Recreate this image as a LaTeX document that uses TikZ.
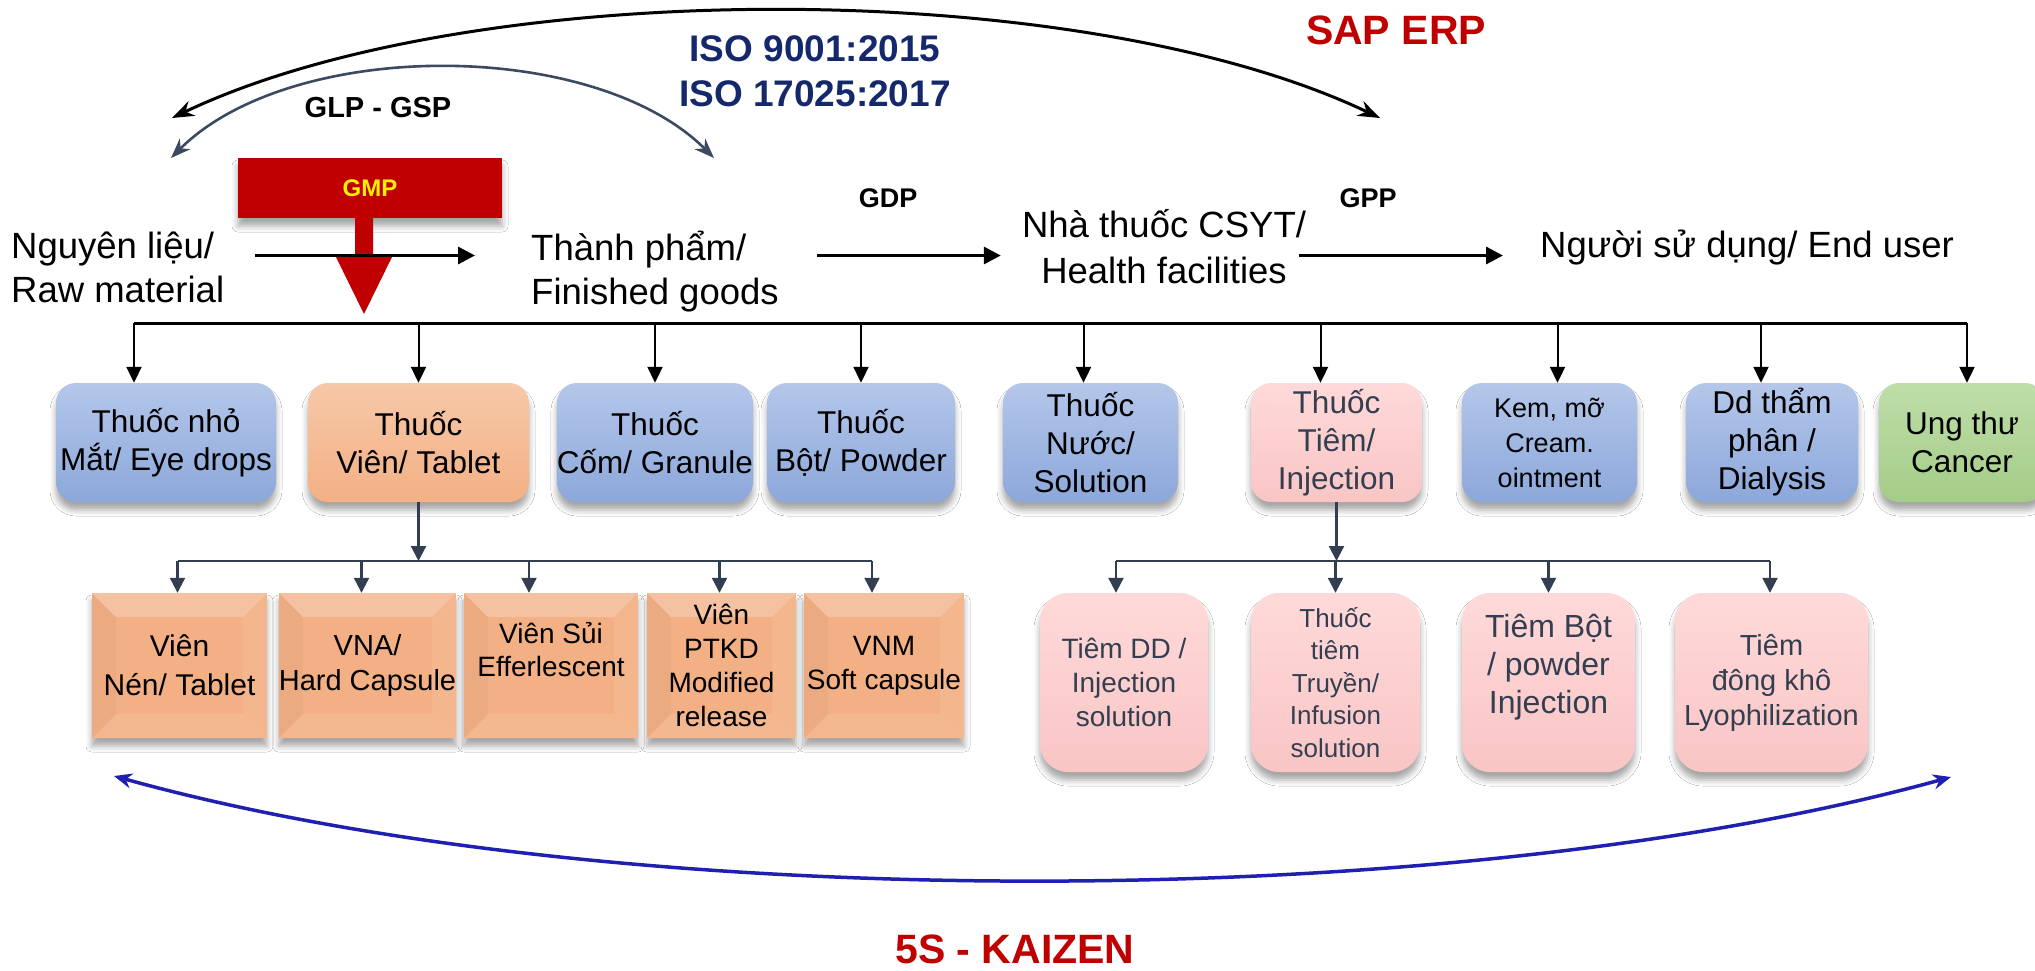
\documentclass[tikz,border=0pt]{standalone}
\usepackage{fontspec}
\setmainfont{Liberation Sans}
\usetikzlibrary{arrows.meta,shadows.blur,calc}
\definecolor{blueT}{HTML}{B4C7EA}
\definecolor{blueB}{HTML}{8CA7DA}
\definecolor{oraF}{HTML}{F3B084}
\definecolor{pinkT}{HTML}{FFD9D9}
\definecolor{pinkB}{HTML}{F9C5C5}
\definecolor{grnT}{HTML}{BEDEA8}
\definecolor{grnB}{HTML}{A4CC88}
\definecolor{slate}{HTML}{333F50}
\definecolor{arcslate}{HTML}{3B4A60}
\definecolor{navy}{HTML}{14286B}
\definecolor{dred}{HTML}{C00000}
\definecolor{arcblue}{HTML}{2020B0}
\newcommand\fsz[2]{\fontsize{#1pt}{#2pt}\selectfont}
\tikzset{
  x=1pt, y=-1pt,
  shad/.style={blur shadow={shadow xshift=0pt, shadow yshift=-8pt, shadow blur radius=6pt, shadow opacity=35}},
  box/.style={shad, inner sep=0pt, align=center},
  rowone/.style={box, minimum height=119pt, rounded corners=20pt, font=\fsz{31.5}{38}},
  bluebox/.style={rowone, top color=blueT, bottom color=blueB},
  orabox/.style={rowone, top color=oraF!70!white, bottom color=oraF},
  pinkbox/.style={rowone, top color=pinkT, bottom color=pinkB, text=slate},
  grnbox/.style={rowone, top color=grnT, bottom color=grnB},
  tabbox/.style={box, minimum height=145pt, fill=oraF, font=\fsz{28}{34},
    path picture={
      \fill[white,opacity=.24] (path picture bounding box.north west) -- (path picture bounding box.north east)
        -- ++(-24pt,-24pt) -- ($(path picture bounding box.north west)+(24pt,-24pt)$) -- cycle;
      \fill[white,opacity=.10] (path picture bounding box.south west) -- (path picture bounding box.south east)
        -- ++(-24pt,24pt) -- ($(path picture bounding box.south west)+(24pt,24pt)$) -- cycle;
      \fill[black,opacity=.03] (path picture bounding box.north west) -- (path picture bounding box.south west)
        -- ++(24pt,24pt) -- ($(path picture bounding box.north west)+(24pt,-24pt)$) -- cycle;
      \fill[white,opacity=.08] (path picture bounding box.north east) -- (path picture bounding box.south east)
        -- ++(-24pt,24pt) -- ($(path picture bounding box.north east)+(-24pt,-24pt)$) -- cycle;
    }},
  injbox/.style={box, minimum height=179pt, rounded corners=28pt, top color=pinkT, bottom color=pinkB,
    text=slate, font=\fsz{28}{34}},
  flowtext/.style={inner sep=0pt, font=\fsz{36.5}{44}},
  flow/.style={line width=3.2pt, -{Triangle[length=17pt,width=17pt]}},
  busline/.style={line width=3pt},
  drop/.style={line width=2pt, -{Triangle[length=16pt,width=15pt]}},
  sline/.style={slate, line width=2.6pt},
  sdrop/.style={slate, line width=2.2pt, -{Triangle[length=15pt,width=15pt]}},
  bigarc/.style={line width=3pt, {Stealth[length=22pt,width=16pt]}-{Stealth[length=22pt,width=16pt]}},
  smallarc/.style={arcslate, line width=2.6pt, {Stealth[length=20pt,width=15pt]}-{Stealth[length=20pt,width=15pt]}},
  kaiarc/.style={arcblue, line width=3.5pt, {Stealth[length=18pt,width=15pt]}-{Stealth[length=18pt,width=15pt]}},
  lbl/.style={inner sep=0pt, font=\bfseries\fsz{27}{32}, anchor=base},
}
\begin{document}
\begin{tikzpicture}
\useasboundingbox[fill=white] (0,0) rectangle (2035,970);

% ---- top labels and arcs
\node[lbl, text=dred, font=\bfseries\fsz{41}{48}] (sap) at (1396,44) {SAP ERP};
\node[lbl, text=navy, font=\bfseries\fsz{37}{45}, align=center] (iso) at (815,106) {ISO 9001:2015\\ISO 17025:2017};
\node[lbl, font=\bfseries\fsz{29}{34}] (glp) at (378,117) {GLP - GSP};
\node[lbl] (gdp) at (888,207) {GDP};
\node[lbl] (gpp) at (1368,207) {GPP};

\coordinate (bigL) at (172,118);
\coordinate (bigR) at (1380,118);
\draw[bigarc] (bigL) .. controls (472,-25) and (1080,-25) .. (bigR);
\coordinate (smL) at (171,158);
\coordinate (smR) at (714,158);
\draw[smallarc] (smL) .. controls (291,38) and (594,38) .. (smR);

% ---- GMP block arrow
\node[shad, fill=dred, minimum width=264pt, minimum height=60pt, inner sep=0pt,
      text=yellow, font=\bfseries\fsz{24}{28}] (gmp) at (370,188) {GMP};
\fill[dred] (355,217) -- (373,217) -- (373,257) -- (392,257) -- (364,314) -- (336,257) -- (355,257) -- cycle;

% ---- main flow (base = baseline of last line)
\node[flowtext, anchor=base west, align=left] (raw) at (11,302) {Nguyên liệu/\\Raw material};
\node[flowtext, anchor=base west, align=left] (fin) at (531,304) {Thành phẩm/\\Finished goods};
\node[flowtext, anchor=base, align=center, font=\fsz{36.5}{46}] (hf) at (1164,283) {Nhà thuốc CSYT/\\Health facilities};
\node[flowtext, anchor=base west] (eu) at (1540,257) {Người sử dụng/ End user};

\coordinate (ay) at (0,255.5);
\draw[flow] ($(raw.east |- ay)+(31,0)$) -- ($(fin.west |- ay)+(-56,0)$);
\draw[flow] ($(fin.east |- ay)+(38,0)$) -- ($(hf.west |- ay)+(-21,0)$);
\draw[flow] ($(hf.east |- ay)+(-7,0)$) -- ($(eu.west |- ay)+(-37,0)$);

% ---- first row of boxes
\node[bluebox, minimum width=220pt] (b1) at (166,442.5) {Thuốc nhỏ\\Mắt/ Eye drops};
\node[orabox, minimum width=221pt] (b2) at (418.5,442.5) {Thuốc\\Viên/ Tablet};
\node[bluebox, minimum width=188pt] (b3) at (655,442.5) {Thuốc\\Cốm/ Granule};
\node[bluebox, minimum width=188pt] (b4) at (861,442.5) {Thuốc\\Bột/ Powder};
\node[bluebox, minimum width=175pt] (b5) at (1090.5,442.5) {Thuốc\\Nước/\\Solution};
\node[pinkbox, minimum width=171pt] (b6) at (1336.5,442.5) {Thuốc\\Tiêm/\\Injection};
\node[bluebox, minimum width=175pt, font=\fsz{27}{35}] (b7) at (1549.5,442.5) {Kem, mỡ\\Cream.\\ointment};
\node[bluebox, minimum width=172pt] (b8) at (1772,442.5) {Dd thẩm\\phân /\\Dialysis};
\node[grnbox, minimum width=166pt] (b9) at (1962,442.5) {Ung thư\\Cancer};

\coordinate (busL) at (134,323);
\coordinate (busR) at (1967,323);
\draw[busline] (busL) -- (busR);
\draw[drop] (busL) -- (busL |- b1.north);
\draw[drop] (b2.north |- busL) -- (b2.north);
\draw[drop] (b3.north |- busL) -- (b3.north);
\draw[drop] (b4.north |- busL) -- (b4.north);
\draw[drop] ($(b5.north |- busL)+(-7,0)$) -- ($(b5.north)+(-7,0)$);
\draw[drop] ($(b6.north |- busL)+(-16,0)$) -- ($(b6.north)+(-16,0)$);
\draw[drop] ($(b7.north |- busL)+(8,0)$) -- ($(b7.north)+(8,0)$);
\draw[drop] ($(b8.north |- busL)+(-11,0)$) -- ($(b8.north)+(-11,0)$);
\draw[drop] (busR) -- (busR |- b9.north);

% ---- tablet sub-row
\node[tabbox, minimum width=175pt, font=\fsz{30}{39}] (t1) at (179.5,665.5) {Viên\\Nén/ Tablet};
\node[tabbox, minimum width=169pt, font=\fsz{29}{35}] (t2) at (367.5,665.5) {VNA/\\Hard Capsule};
\node[tabbox, minimum width=174pt, font=\fsz{28}{33}] (t3) at (551,665.5) {Viên Sủi\\Efferlescent\\\mbox{}};
\node[tabbox, minimum width=149pt, font=\fsz{28}{34}] (t4) at (721.5,665.5) {Viên\\PTKD\\Modified\\release};
\node[tabbox, minimum width=160pt, font=\fsz{28}{34}] (t5) at (884,665.5) {VNM\\Soft capsule};

\coordinate (tbus) at (0,561);
\draw[sdrop] (b2.south) -- (b2.south |- tbus);
\draw[sline] ($(t1.north |- tbus)+(-2,0)$) -- ($(t5.north |- tbus)+(-12,0)$);
\draw[sdrop] ($(t1.north |- tbus)+(-2,0)$) -- ($(t1.north)+(-2,0)$);
\draw[sdrop] ($(t2.north |- tbus)+(-6,0)$) -- ($(t2.north)+(-6,0)$);
\draw[sdrop] ($(t3.north |- tbus)+(-22,0)$) -- ($(t3.north)+(-22,0)$);
\draw[sdrop] ($(t4.north |- tbus)+(-2,0)$) -- ($(t4.north)+(-2,0)$);
\draw[sdrop] ($(t5.north |- tbus)+(-12,0)$) -- ($(t5.north)+(-12,0)$);

% ---- injection sub-row
\node[injbox, minimum width=168pt, font=\fsz{28}{34}] (p1) at (1124,682.5) {Tiêm DD /\\Injection\\solution};
\node[injbox, minimum width=169pt, font=\fsz{26}{32.5}] (p2) at (1335.5,682.5) {Thuốc\\tiêm\\Truyền/\\Infusion\\solution};
\node[injbox, minimum width=173pt, font=\fsz{32}{38}] (p3) at (1548.5,682.5) {Tiêm Bột\\/ powder\\Injection\\\mbox{}};
\node[injbox, minimum width=193pt, font=\fsz{29}{35}] (p4) at (1771.5,682.5) {Tiêm\\đông khô\\Lyophilization};

\draw[sdrop] (b6.south) -- (b6.south |- tbus);
\draw[sline] ($(p1.north |- tbus)+(-8,0)$) -- ($(p4.north |- tbus)+(-1.5,0)$);
\draw[sdrop] ($(p1.north |- tbus)+(-8,0)$) -- ($(p1.north)+(-8,0)$);
\draw[sdrop] (p2.north |- tbus) -- (p2.north);
\draw[sdrop] (p3.north |- tbus) -- (p3.north);
\draw[sdrop] ($(p4.north |- tbus)+(-1.5,0)$) -- ($(p4.north)+(-1.5,0)$);

% ---- 5S - KAIZEN
\coordinate (kL) at (114,776);
\coordinate (kR) at (1951,777);
\draw[kaiarc] (kL) .. controls (614,915) and (1451,915) .. (kR);
\node[lbl, text=dred, font=\bfseries\fsz{41}{48}] (kai) at (1015,963) {5S - KAIZEN};
\end{tikzpicture}
\end{document}
